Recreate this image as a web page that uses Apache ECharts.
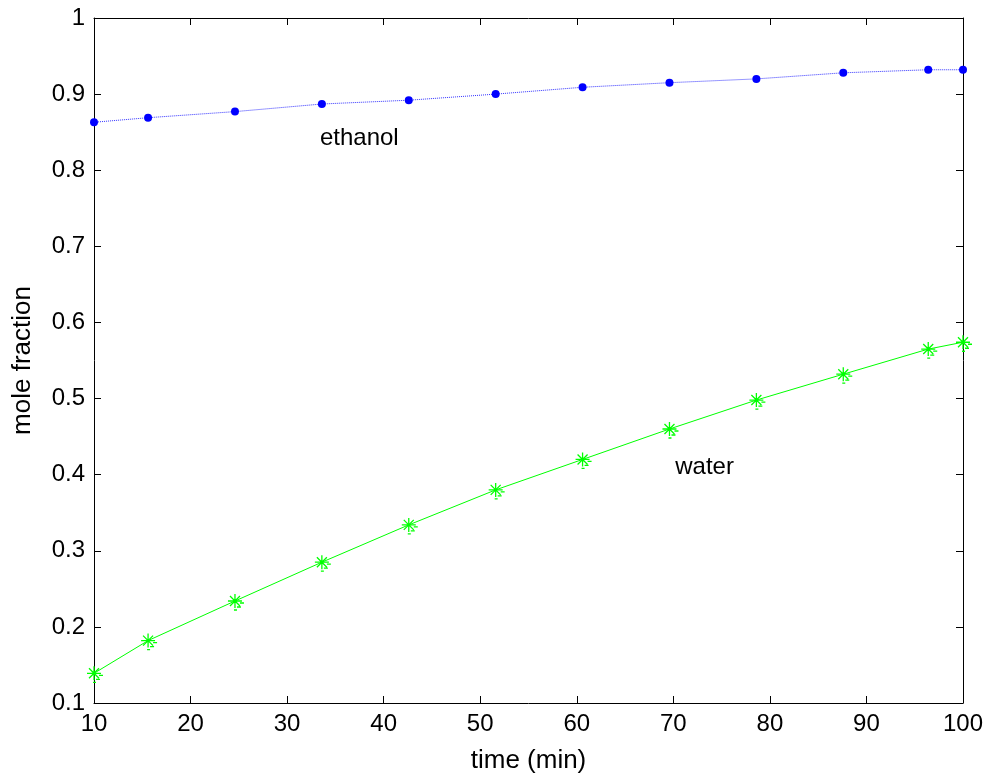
<!DOCTYPE html>
<html><head><meta charset="utf-8">
<script src="https://cdn.jsdelivr.net/npm/echarts@6/dist/echarts.min.js"></script>
<style>html,body{margin:0;padding:0;background:#fff}#c{width:990px;height:776px}</style>
</head><body><div id="c"></div>
<script>
const timeMin = [10, 15.6, 24.6, 33.6, 42.6, 51.6, 60.6, 69.6, 78.6, 87.6, 96.4, 100];
const ethanol = [0.863, 0.869, 0.877, 0.887, 0.892, 0.900, 0.909, 0.915, 0.920, 0.928, 0.932, 0.932];
const water = [0.139, 0.182, 0.234, 0.285, 0.334, 0.380, 0.420, 0.460, 0.498, 0.532, 0.565, 0.574];
const xTicks = [10, 20, 30, 40, 50, 60, 70, 80, 90, 100];
const yTicks = [0.1, 0.2, 0.3, 0.4, 0.5, 0.6, 0.7, 0.8, 0.9, 1];
const annotations = [{text: 'ethanol', x: 33.4, y: 0.842}, {text: 'water', x: 70.2, y: 0.41}];

const FONT = 'Liberation Sans, Arial, sans-serif';
const star = 'path://M7,0L7,14M0,7L14,7M2,2L12,12M12,2L2,12M12,9L16,9M9,13L13,13M6,16L9,16';
const chart = echarts.init(document.getElementById('c'));
const axBase = {
  axisLine: {show: true, lineStyle: {color: '#000', width: 1}},
  axisTick: {show: true, inside: true, length: 7, lineStyle: {color: '#000', width: 1}},
  splitLine: {show: false}
};
chart.setOption({
  backgroundColor: '#fff',
  animation: false,
  grid: {left: 94, right: 27, top: 18, bottom: 73, containLabel: false, outerBoundsMode: 'none'},
  xAxis: [
    Object.assign({type: 'value', min: 10, max: 100, interval: 10, name: 'time (min)', nameLocation: 'middle', nameGap: 45,
      nameTextStyle: {fontFamily: FONT, fontSize: 26, color: '#000'},
      axisLabel: {fontFamily: FONT, fontSize: 24, color: '#000', margin: 9,
        formatter: v => xTicks.includes(Math.round(v)) ? String(Math.round(v)) : ''}}, axBase),
    Object.assign({type: 'value', position: 'top', min: 10, max: 100, interval: 10, axisLabel: {show: false}}, axBase)
  ],
  yAxis: [
    Object.assign({type: 'value', min: 0.1, max: 1, interval: 0.1, name: 'mole fraction', nameLocation: 'middle', nameGap: 58,
      nameTextStyle: {fontFamily: FONT, fontSize: 26, color: '#000'},
      axisLabel: {fontFamily: FONT, fontSize: 24, color: '#000', margin: 9,
        formatter: v => { const r = Math.round(v * 10) / 10; return yTicks.includes(r) ? String(r) : ''; }}}, axBase),
    Object.assign({type: 'value', position: 'right', min: 0.1, max: 1, interval: 0.1, axisLabel: {show: false}}, axBase)
  ],
  series: [
    {type: 'line', name: 'ethanol', data: timeMin.map((t, i) => [t, ethanol[i]]),
      symbol: 'circle', symbolSize: 8, itemStyle: {color: '#0000ff'},
      lineStyle: {color: '#3333ff', width: 1, type: 'dotted'}, z: 3,
      markPoint: {symbol: 'circle', symbolSize: 0, data: [{coord: [annotations[0].x, annotations[0].y]}],
        label: {show: true, position: 'right', distance: 0, formatter: annotations[0].text, fontFamily: FONT, fontSize: 24, color: '#000'}}},
    {type: 'line', name: 'water', data: timeMin.map((t, i) => [t, water[i]]),
      symbol: star, symbolSize: 16, symbolOffset: [1, 1], symbolKeepAspect: true,
      itemStyle: {color: 'none', borderColor: '#00ff00', borderWidth: 1.3},
      lineStyle: {color: '#00ff00', width: 1}, z: 3,
      markPoint: {symbol: 'circle', symbolSize: 0, data: [{coord: [annotations[1].x, annotations[1].y]}],
        label: {show: true, position: 'right', distance: 0, formatter: annotations[1].text, fontFamily: FONT, fontSize: 24, color: '#000'}}}
  ]
});
</script></body></html>
